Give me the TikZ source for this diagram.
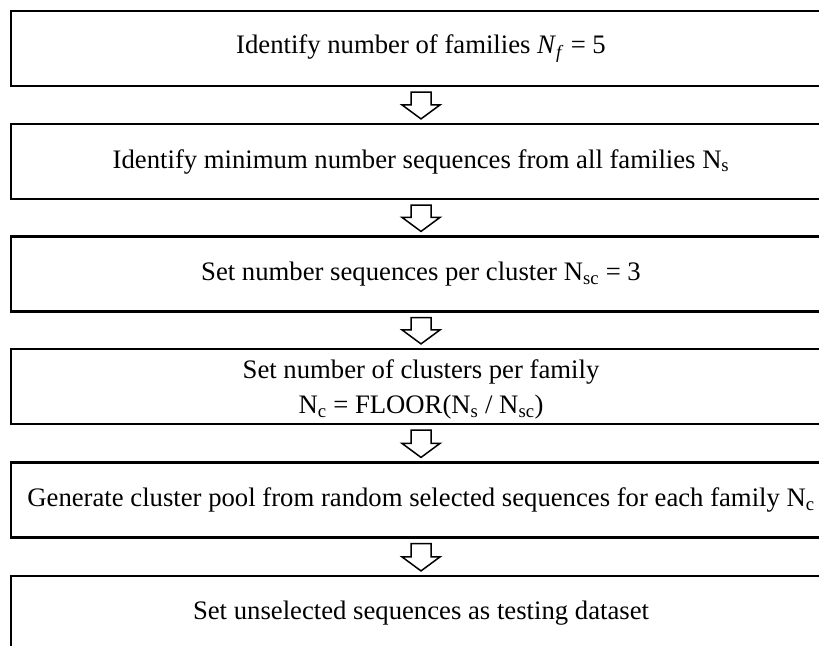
\documentclass[tikz,border=0pt]{standalone}
\usepackage{fontspec}
\setmainfont{Liberation Serif}
\usetikzlibrary{calc}

\tikzset{
  stepbox/.style={draw, line width=2.2bp, minimum width=820bp, minimum height=75bp,
    inner sep=0pt, align=center, font=\fontsize{26.7bp}{35bp}\selectfont},
  downarr/.style={draw, line width=1.5bp, fill=white, line join=miter}
}

% hollow block arrow from one box down to the next
\newcommand{\blockarr}[2]{%
  \path[downarr] let \p1=(#1.south), \p2=(#2.north) in
    (\x1-10bp,\y1-5bp) -- (\x1+10bp,\y1-5bp) -- (\x1+10bp,\y2+18bp) --
    (\x1+19bp,\y2+18bp) -- (\x1,\y2+4bp) -- (\x1-19bp,\y2+18bp) --
    (\x1-10bp,\y2+18bp) -- cycle;}

\begin{document}
\begin{tikzpicture}[x=1bp, y=-1bp]
\useasboundingbox (0,0) rectangle (819,646);
\fill[white] (0,0) rectangle (819,646);
\clip (0,0) rectangle (819,646);

\node[stepbox] (famno) at (421,48.5) {Identify number of families \textit{N}\textsubscript{\textit{f}} = 5};
\node[stepbox] (minseq) at (421,161.5) {Identify minimum number sequences from all families N\textsubscript{s}};
\node[stepbox] (seqclus) at (421,274) {Set number sequences per cluster N\textsubscript{sc} = 3};
\node[stepbox, label={[yshift=-3bp, align=center, inner sep=0pt,
    font=\fontsize{26.7bp}{35bp}\selectfont]center:Set number of clusters per family\\
    N\textsubscript{c} = FLOOR(N\textsubscript{s} / N\textsubscript{sc})}] (clusfam) at (421,386.5) {};
\node[stepbox] (pool) at (421,500) {Generate cluster pool from random selected sequences for each family N\textsubscript{c}};
\node[stepbox] (testset) at (421,613.5) {Set unselected sequences as testing dataset};

\blockarr{famno}{minseq}
\blockarr{minseq}{seqclus}
\blockarr{seqclus}{clusfam}
\blockarr{clusfam}{pool}
\blockarr{pool}{testset}
\end{tikzpicture}
\end{document}
